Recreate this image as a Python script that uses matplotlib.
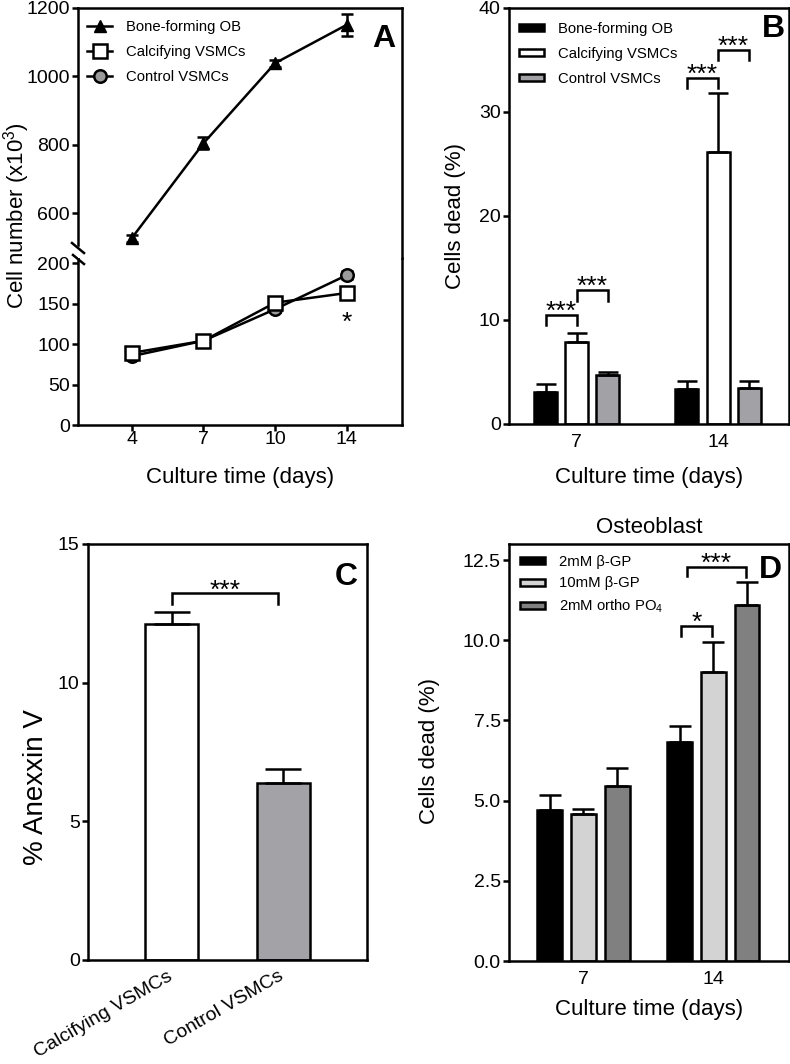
import matplotlib
matplotlib.use('Agg')
import matplotlib.pyplot as plt
import numpy as np
from matplotlib.lines import Line2D
from matplotlib.transforms import ScaledTranslation

plt.rcParams['font.family'] = ['Liberation Sans', 'DejaVu Sans']
plt.rcParams['mathtext.fontset'] = 'custom'
plt.rcParams['mathtext.rm'] = 'Liberation Sans'
plt.rcParams['mathtext.it'] = 'Liberation Sans:italic'
plt.rcParams['mathtext.bf'] = 'Liberation Sans:bold'

# ---------------- data ----------------
# Panel A
days_a = ['4', '7', '10', '14']
ob_mean = [528, 805, 1039, 1151]
ob_err = [10, 18, 10, 32]
calc_mean = [89, 104, 151, 163]
calc_err = [3, 3, 4, 4]
ctrl_mean = [85, 104, 143, 185]
ctrl_err = [3, 3, 3, 5]

# Panel B
days_b = ['7', '14']
b_ob = [3.05, 3.37]
b_ob_err = [0.78, 0.79]
b_calc = [7.9, 26.2]
b_calc_err = [0.85, 5.6]
b_ctrl = [4.67, 3.46]
b_ctrl_err = [0.33, 0.70]
b_labels = ['Bone-forming OB', 'Calcifying VSMCs', 'Control VSMCs']
# brackets: (group, series_left, series_right, y_bar, y_leg_left, y_leg_right, text)
b_brackets = [(0, 0, 1, 10.5, 9.5, 9.5, '***'),
              (0, 1, 2, 12.9, 11.85, 11.85, '***'),
              (1, 0, 1, 33.3, 32.3, 32.3, '***'),
              (1, 1, 2, 36.0, 35.0, 35.0, '***')]

# Panel C
c_groups = ['Calcifying VSMCs', 'Control VSMCs']
c_mean = [12.12, 6.37]
c_err = [0.42, 0.53]
c_bracket = (0, 1, 13.22, 12.84, 12.84, '***')

# Panel D
days_d = ['7', '14']
d_2bgp = [4.70, 6.83]
d_2bgp_err = [0.49, 0.51]
d_10bgp = [4.59, 9.01]
d_10bgp_err = [0.16, 0.94]
d_po4 = [5.45, 11.09]
d_po4_err = [0.57, 0.71]
d_labels = ['2mM β-GP', '10mM β-GP', '2mM ortho PO$_4$']
d_brackets = [(1, 0, 1, 10.45, 10.14, 10.14, '*'),
              (1, 0, 2, 12.29, 12.0, 11.98, '***')]

# ---------------- layout helpers ----------------
W, H = 790, 1064
fig = plt.figure(figsize=(W / 100, H / 100), dpi=100)


def box(x0, y0, x1, y1):
    return [x0 / W, 1 - y1 / H, (x1 - x0) / W, (y1 - y0) / H]


LW = 1.8
TICK = 14
LABEL = 16
STAR = 19


def style(ax):
    for s in ax.spines.values():
        s.set_linewidth(LW)
    ax.tick_params(direction='out', length=4, width=LW, labelsize=TICK, pad=2)


def bracket(ax, x1, x2, y, l1, l2, txt):
    ax.plot([x1, x1, x2, x2], [l1, y, y, l2], color='k', lw=LW, solid_joinstyle='miter')
    ax.annotate(txt, xy=((x1 + x2) / 2, y), xytext=(0, -3), textcoords='offset points',
                ha='center', va='baseline', fontsize=STAR)


# ================= Panel A =================
ax_lo = fig.add_axes(box(78, 258, 402, 425))
ax_up = fig.add_axes(box(78, 8, 402, 258), sharex=ax_lo)
xa = np.arange(len(days_a))
for ax in (ax_lo, ax_up):
    style(ax)

ob_style = dict(color='k', lw=LW, marker='^', ms=8, mfc='k', mec='k')
ctrl_style = dict(color='k', lw=LW, marker='o', ms=9, mfc='#9a9a9a', mec='k', mew=LW)
calc_style = dict(color='k', lw=LW, marker='s', ms=10, mfc='white', mec='k', mew=LW)
ax_up.errorbar(xa, ob_mean, yerr=ob_err, capsize=4.5, capthick=LW, **ob_style)
ax_lo.errorbar(xa, ctrl_mean, yerr=ctrl_err, capsize=4, capthick=LW, **ctrl_style)
ax_lo.errorbar(xa, calc_mean, yerr=calc_err, capsize=4, capthick=LW, **calc_style)

ax_lo.set_xlim(-0.75, 3.77)
ax_lo.set_ylim(0, 206.2)
ax_up.set_ylim(470, 1200)
ax_lo.set_yticks([0, 50, 100, 150, 200])
ax_up.set_yticks([600, 800, 1000, 1200])
ax_lo.set_xticks(xa)
ax_lo.set_xticklabels(days_a)
ax_lo.tick_params(axis='x', pad=0)
ax_up.tick_params(axis='x', bottom=False, labelbottom=False)
ax_up.spines['bottom'].set_visible(False)
ax_lo.spines['top'].set_visible(False)
ax_up.spines['left'].set_bounds(508, 1200)

# break marks on the left spine
ax_up.plot([-6 / 324, 6 / 324], [(258 - 243) / 250, (258 - 253) / 250], transform=ax_up.transAxes,
           color='k', lw=LW, clip_on=False)
ax_lo.plot([-5 / 324, 6 / 324], [(425 - 255) / 167, (425 - 264) / 167], transform=ax_lo.transAxes,
           color='k', lw=LW, clip_on=False)

ax_lo.annotate('*', xy=(3, 117), ha='center', va='baseline', fontsize=STAR)

# legend in panel A
handles = [Line2D([], [], **ob_style), Line2D([], [], **calc_style), Line2D([], [], **ctrl_style)]
ax_up.legend(handles, b_labels, loc='upper left', bbox_to_anchor=((87 - 78) / 324, (258 - 20) / 250),
             frameon=False, fontsize=10.7, handlelength=1.7, handletextpad=0.9, labelspacing=0.75,
             borderpad=0, borderaxespad=0, numpoints=1)

ax_lo.set_xlabel('Culture time (days)', fontsize=LABEL, va='center')
ax_lo.xaxis.set_label_coords(0.5, (425 - 477) / 167)
ax_lo.set_ylabel('Cell number (x10$^3$)', fontsize=LABEL, va='center', ha='center')
ax_lo.yaxis.set_label_coords((17 - 78) / 324, (425 - 216) / 167)

fig.text(384 / W, 1 - 47 / H, 'A', fontsize=23, fontweight='bold', ha='center', va='baseline')

# ================= Panel B =================
axb = fig.add_axes(box(509, 8, 789, 424))
style(axb)
xb = np.arange(len(days_b))
offs_b = [-0.22, 0.0, 0.22]
wb = 0.163
series_b = [(b_ob, b_ob_err, '#000000'), (b_calc, b_calc_err, '#ffffff'), (b_ctrl, b_ctrl_err, '#a2a2a6')]
for i, (m, e, c) in enumerate(series_b):
    axb.bar(xb + offs_b[i], m, width=wb, color=c, edgecolor='k', linewidth=LW,
            yerr=[np.zeros(len(e)), e], capsize=7.5,
            error_kw=dict(elinewidth=LW, capthick=LW, ecolor='k'), label=b_labels[i])
for g, s1, s2, y, l1, l2, t in b_brackets:
    bracket(axb, g + offs_b[s1], g + offs_b[s2], y, l1, l2, t)
axb.set_xlim(-0.479, 1.502)
axb.set_ylim(0, 40)
axb.set_yticks([0, 10, 20, 30, 40])
axb.set_xticks(xb)
axb.set_xticklabels(days_b)
axb.tick_params(axis='x', length=0, pad=7)
axb.legend(loc='upper left', bbox_to_anchor=((519 - 509) / 280, (424 - 22) / 416), frameon=False,
           fontsize=10.7, handlelength=1.7, handleheight=0.35, handletextpad=0.9, labelspacing=0.75,
           borderpad=0, borderaxespad=0)
axb.set_xlabel('Culture time (days)', fontsize=LABEL, va='center')
axb.xaxis.set_label_coords(0.5, (424 - 478) / 416)
axb.set_ylabel('Cells dead (%)', fontsize=LABEL, va='center', ha='center')
axb.yaxis.set_label_coords((456 - 509) / 280, 0.5)
fig.text(773.5 / W, 1 - 37 / H, 'B', fontsize=23, fontweight='bold', ha='center', va='baseline')

# ================= Panel C =================
axc = fig.add_axes(box(88, 544, 367, 960))
style(axc)
xc = np.arange(len(c_groups))
axc.bar(xc, c_mean, width=0.48, color=['#ffffff', '#a3a3a7'], edgecolor='k', linewidth=LW,
        yerr=[np.zeros(len(c_err)), c_err], capsize=13,
        error_kw=dict(elinewidth=LW, capthick=LW, ecolor='k'))
bx1, bx2, by, bl1, bl2, bt = c_bracket
bracket(axc, bx1, bx2 - 0.05, by, bl1, bl2, bt)
axc.set_xlim(-0.75, 1.75)
axc.set_ylim(0, 15)
axc.set_yticks([0, 5, 10, 15])
axc.set_xticks(xc)
axc.set_xticklabels(c_groups, rotation=30, ha='right', rotation_mode='anchor')
axc.tick_params(axis='x', length=0, pad=5.5)
for lbl in axc.get_xticklabels():
    lbl.set_transform(lbl.get_transform() + ScaledTranslation(-5 / 100, 0, fig.dpi_scale_trans))
axc.set_ylabel('% Anexxin V', fontsize=20, va='center', ha='center')
axc.yaxis.set_label_coords((36 - 88) / 279, (960 - 787) / 416)
fig.text(346 / W, 1 - 585 / H, 'C', fontsize=23, fontweight='bold', ha='center', va='baseline')

# ================= Panel D =================
axd = fig.add_axes(box(509, 544, 789, 961))
style(axd)
xd = np.arange(len(days_d))
offs_d = [-0.26, 0.0, 0.26]
wd = 0.19
series_d = [(d_2bgp, d_2bgp_err, '#000000'), (d_10bgp, d_10bgp_err, '#d3d3d3'), (d_po4, d_po4_err, '#808080')]
for i, (m, e, c) in enumerate(series_d):
    axd.bar(xd + offs_d[i], m, width=wd, color=c, edgecolor='k', linewidth=LW,
            yerr=[np.zeros(len(e)), e], capsize=8,
            error_kw=dict(elinewidth=LW, capthick=LW, ecolor='k'), label=d_labels[i])
for g, s1, s2, y, l1, l2, t in d_brackets:
    x1 = g + offs_d[s1] + (0.06 if t == '***' else 0.01)
    x2 = g + offs_d[s2] - 0.01
    bracket(axd, x1, x2, y, l1, l2, t)
axd.set_xlim(-0.572, 1.582)
axd.set_ylim(0, 13)
axd.set_yticks([0, 2.5, 5, 7.5, 10, 12.5])
axd.set_yticklabels(['0.0', '2.5', '5.0', '7.5', '10.0', '12.5'])
axd.set_xticks(xd)
axd.set_xticklabels(days_d)
axd.tick_params(axis='x', length=0, pad=7)
axd.legend(loc='upper left', bbox_to_anchor=((520 - 509) / 280, (961 - 555) / 417), frameon=False,
           fontsize=10.7, handlelength=1.7, handleheight=0.35, handletextpad=0.9, labelspacing=0.5,
           borderpad=0, borderaxespad=0)
axd.set_title('Osteoblast', fontsize=16, pad=8)
axd.set_xlabel('Culture time (days)', fontsize=LABEL, va='center')
axd.xaxis.set_label_coords(0.5, (961 - 1010) / 417)
axd.set_ylabel('Cells dead (%)', fontsize=LABEL, va='center', ha='center')
axd.yaxis.set_label_coords((430 - 509) / 280, (961 - 751) / 417)
fig.text(770.5 / W, 1 - 578 / H, 'D', fontsize=23, fontweight='bold', ha='center', va='baseline')

fig.savefig('out.png', dpi=100)
